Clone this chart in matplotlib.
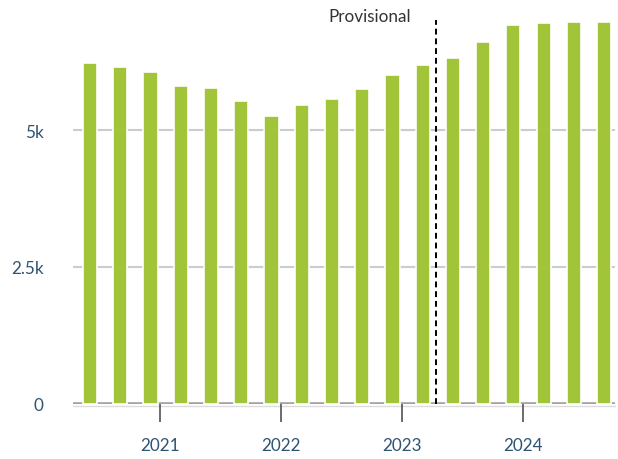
import matplotlib
matplotlib.use("Agg")
import matplotlib.pyplot as plt
import numpy as np

plt.rcParams['font.family'] = ['Lato', 'DejaVu Sans']

values = [6225, 6152, 6055, 5804, 5773, 5530, 5256, 5457, 5567, 5744,
          6011, 6188, 6322, 6603, 6914, 6951, 6980, 6980]
year_labels = ["2021", "2022", "2023", "2024"]
year_tick_pos = [2.31, 6.31, 10.31, 14.31]
provisional_pos = 11.45
y_ticks = [0, 2500, 5000]
y_tick_labels = ["0", "2.5k", "5k"]

text_color = "#2f5372"
bar_color = "#a2c438"

fig = plt.figure(figsize=(6.18, 4.60), dpi=100)
ax = fig.add_axes([73/618, 1-404.5/460, (615-73)/618, (404.5-10.7)/460])

x = np.arange(len(values))
ax.bar(x, values, width=0.47, color=bar_color, edgecolor="white", linewidth=1.2, zorder=3)

ax.set_xlim(-0.56, 17.36)
ax.set_ylim(0, 7200)

for yv in y_ticks[1:]:
    ax.axhline(yv, color="#c9cdd2", linewidth=1.5, zorder=1)
ax.axhline(0, color="#a3a3a3", linewidth=2.6, zorder=2)
ax.axhline(-40, color="#dcdcdc", linewidth=1.0, zorder=1, clip_on=False)

ax.axvline(provisional_pos, ymin=0, ymax=(7200-180)/7200, color="black",
           linestyle=(0, (3, 2)), linewidth=1.4, zorder=4)
ax.text(provisional_pos - 0.82, 7090, "Provisional", ha="right", va="center",
        fontsize=12.3, color="#333333")

ax.set_yticks(y_ticks)
ax.set_yticklabels(y_tick_labels)
ax.set_xticks(year_tick_pos)
ax.set_xticklabels(year_labels)

ax.tick_params(axis="y", length=0, pad=21, labelsize=12.3, labelcolor=text_color)
ax.tick_params(axis="x", length=13, width=1.1, color="#444444", pad=11,
               labelsize=12.3, labelcolor=text_color, direction="out")

for s in ax.spines.values():
    s.set_visible(False)

fig.savefig("out.png", dpi=100)
